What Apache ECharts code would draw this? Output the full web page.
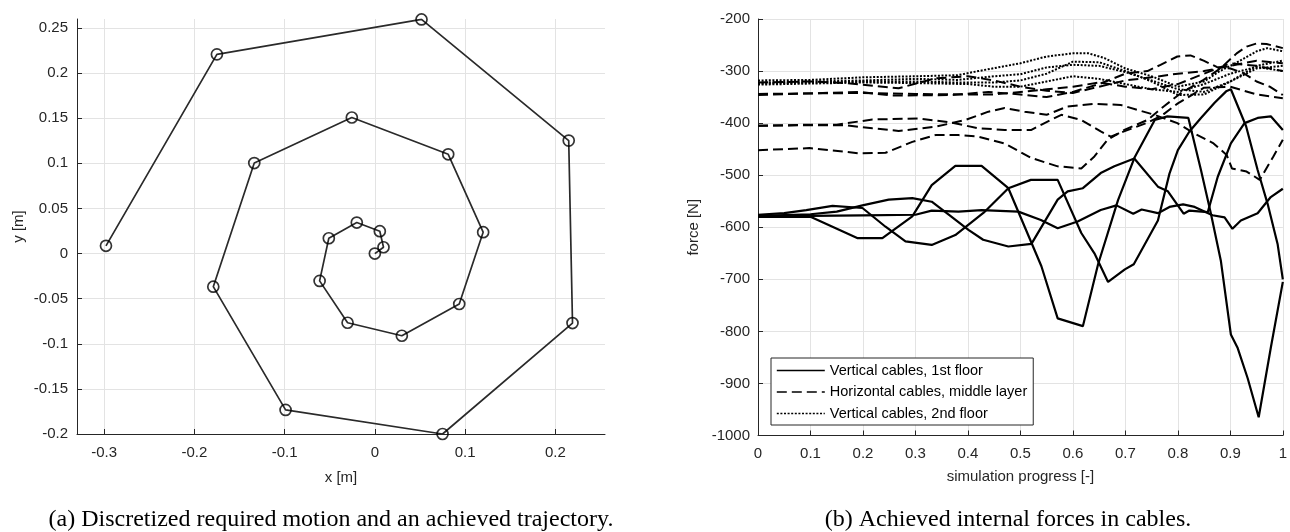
<!DOCTYPE html>
<html><head><meta charset="utf-8">
<script src="https://cdn.jsdelivr.net/npm/echarts@6/dist/echarts.min.js"></script>
<style>html,body{margin:0;padding:0;background:#fff}#c{width:1290px;height:532px}</style>
</head><body><div id="c"></div><script>
// ---------- (a) trajectory plot ----------
const xTicksA = [-0.3, -0.2, -0.1, 0, 0.1, 0.2];
const yTicksA = [-0.2, -0.15, -0.1, -0.05, 0, 0.05, 0.1, 0.15, 0.2, 0.25];
// discretized required motion (spiral waypoints), from centre outwards
const waypoints = [
  [0, 0], [0.0096, 0.007], [0.0055, 0.0248], [-0.02, 0.0344], [-0.051, 0.017],
  [-0.0612, -0.0303], [-0.0302, -0.0767], [0.0299, -0.0911], [0.0935, -0.0559],
  [0.12, 0.0237], [0.0813, 0.110], [-0.0255, 0.1508], [-0.1336, 0.1003],
  [-0.179, -0.0367], [-0.0989, -0.1733], [0.075, -0.2], [0.219, -0.077],
  [0.2148, 0.1252], [0.0517, 0.2595], [-0.175, 0.2208], [-0.2979, 0.0086]
];

// ---------- (b) cable forces ----------
const xTicksB = [0, 0.1, 0.2, 0.3, 0.4, 0.5, 0.6, 0.7, 0.8, 0.9, 1];
const yTicksB = [-1000, -900, -800, -700, -600, -500, -400, -300, -200];
const nameSolid = 'Vertical cables, 1st floor';
const nameDash = 'Horizontal cables, middle layer';
const nameDot = 'Vertical cables, 2nd floor';

// vertical cables, 1st floor (solid)
const v1a = [[0,-580],[0.05,-580],[0.1,-580],[0.19,-621],[0.237,-621],[0.294,-579],[0.331,-519],[0.376,-482],[0.426,-482],[0.477,-525],[0.54,-675],[0.571,-775],[0.619,-790],[0.648,-671],[0.686,-548],[0.718,-465],[0.756,-394],[0.78,-387],[0.82,-390],[0.844,-490],[0.863,-574],[0.882,-665],[0.901,-806],[0.914,-832],[0.933,-890],[0.954,-965],[0.977,-832],[1.0,-705]];
const v1b = [[0,-576],[0.05,-573],[0.092,-567],[0.142,-559],[0.199,-563],[0.243,-599],[0.281,-627],[0.331,-634],[0.376,-615],[0.43,-572],[0.477,-525],[0.52,-509],[0.571,-509],[0.616,-611],[0.641,-650],[0.667,-705],[0.699,-681],[0.716,-671],[0.762,-587],[0.784,-497],[0.8,-452],[0.822,-416],[0.844,-390],[0.87,-361],[0.892,-339],[0.901,-335],[0.93,-406],[0.952,-490],[0.971,-555],[0.99,-632],[1.0,-700]];
const v1c = [[0,-578],[0.1,-575],[0.15,-570],[0.199,-558],[0.249,-547],[0.294,-544],[0.331,-551],[0.369,-580],[0.401,-605],[0.429,-624],[0.477,-637],[0.521,-632],[0.571,-547],[0.59,-531],[0.619,-525],[0.653,-496],[0.679,-483],[0.717,-468],[0.762,-522],[0.781,-531],[0.811,-574],[0.822,-568],[0.857,-571],[0.876,-503],[0.901,-439],[0.927,-400],[0.952,-390],[0.977,-387],[1.0,-413]];
const v1d = [[0,-580],[0.1,-578],[0.2,-577],[0.3,-576],[0.331,-568],[0.382,-570],[0.426,-567],[0.496,-570],[0.539,-586],[0.571,-602],[0.609,-589],[0.653,-567],[0.683,-558],[0.715,-574],[0.731,-566],[0.762,-573],[0.784,-561],[0.81,-556],[0.832,-561],[0.866,-577],[0.889,-581],[0.904,-603],[0.92,-587],[0.952,-573],[0.977,-542],[1.0,-526]];

// horizontal cables, middle layer (dashed)
const hA = [[0,-346],[0.193,-340],[0.256,-347],[0.369,-346],[0.439,-340],[0.5,-345],[0.55,-350],[0.6,-340],[0.65,-325],[0.7,-305],[0.742,-300],[0.767,-288],[0.799,-272],[0.824,-270],[0.849,-280],[0.874,-292],[0.9,-295],[0.925,-304],[0.95,-320],[0.975,-330],[1.0,-346]];
const hB = [[0,-344],[0.2,-342],[0.3,-344],[0.4,-345],[0.45,-345],[0.5,-340],[0.55,-335],[0.6,-330],[0.65,-322],[0.7,-330],[0.75,-335],[0.8,-325],[0.85,-305],[0.9,-285],[0.95,-290],[1.0,-300]];
const hC = [[0,-405],[0.1,-403],[0.15,-403],[0.218,-393],[0.306,-391],[0.369,-399],[0.42,-410],[0.47,-413],[0.521,-413],[0.546,-400],[0.578,-384],[0.616,-394],[0.653,-416],[0.672,-426],[0.7,-415],[0.74,-400],[0.77,-385],[0.8,-362],[0.85,-332],[0.9,-330],[0.95,-345],[1.0,-352]];
const hD = [[0,-405],[0.1,-404],[0.167,-404],[0.218,-410],[0.268,-415],[0.338,-407],[0.395,-394],[0.439,-378],[0.47,-371],[0.508,-378],[0.55,-384],[0.59,-368],[0.641,-363],[0.691,-365],[0.755,-384],[0.799,-400],[0.83,-419],[0.868,-439],[0.893,-461],[0.903,-487],[0.931,-493],[0.956,-509],[0.982,-464],[1.0,-432]];
const hE = [[0,-452],[0.098,-448],[0.193,-458],[0.243,-457],[0.294,-436],[0.338,-423],[0.382,-423],[0.42,-426],[0.47,-439],[0.521,-467],[0.571,-483],[0.616,-487],[0.641,-464],[0.666,-432],[0.698,-413],[0.742,-394],[0.773,-368],[0.805,-343],[0.849,-317],[0.881,-295],[0.912,-266],[0.931,-253],[0.95,-247],[0.969,-248],[1.0,-256]];
const hF = [[0,-322],[0.1,-320],[0.167,-323],[0.268,-333],[0.338,-314],[0.4,-310],[0.45,-318],[0.5,-330],[0.55,-338],[0.6,-342],[0.65,-330],[0.7,-318],[0.75,-312],[0.8,-305],[0.85,-300],[0.9,-290],[0.95,-280],[1.0,-285]];

// vertical cables, 2nd floor (dotted)
const v2a = [[0,-318],[0.1,-317],[0.2,-312],[0.3,-310],[0.38,-308],[0.42,-300],[0.5,-285],[0.55,-272],[0.6,-266],[0.63,-266],[0.66,-275],[0.7,-295],[0.75,-310],[0.8,-330],[0.85,-320],[0.88,-300],[0.91,-285],[0.95,-262],[0.97,-256],[1.0,-262]];
const v2b = [[0,-322],[0.1,-320],[0.2,-318],[0.3,-315],[0.38,-317],[0.45,-310],[0.5,-306],[0.55,-293],[0.6,-288],[0.65,-290],[0.7,-302],[0.75,-318],[0.8,-335],[0.85,-340],[0.9,-320],[0.95,-295],[1.0,-290]];
const v2c = [[0,-324],[0.1,-322],[0.2,-320],[0.3,-320],[0.38,-322],[0.45,-322],[0.5,-318],[0.55,-305],[0.6,-282],[0.65,-283],[0.7,-300],[0.75,-320],[0.8,-346],[0.85,-345],[0.9,-320],[0.95,-290],[1.0,-280]];
const v2d = [[0,-326],[0.1,-324],[0.2,-322],[0.3,-323],[0.4,-325],[0.45,-330],[0.5,-330],[0.55,-320],[0.6,-310],[0.65,-315],[0.7,-325],[0.75,-335],[0.8,-340],[0.85,-325],[0.9,-305],[0.95,-292],[1.0,-300]];

const solidSets = [v1a, v1b, v1c, v1d];
const dashSets = [hA, hB, hC, hD, hE, hF];
const dotSets = [v2a, v2b, v2c, v2d];

const captionA = '(a) Discretized required motion and an achieved trajectory.';
const captionB = '(b) Achieved internal forces in cables.';

// ---------- chart ----------
const AX = '#262626', GRIDC = '#e3e3e3', FONT = '"Liberation Sans", Arial, sans-serif';
const lbl = {fontSize: 15, color: AX, fontFamily: FONT, formatter: v => String(v)};
function axisCommon(extra) {
  return Object.assign({
    type: 'value',
    axisLine: {show: true, onZero: false, lineStyle: {color: AX, width: 1}},
    axisTick: {show: true, inside: true, length: 5, lineStyle: {color: AX}},
    splitLine: {show: true, lineStyle: {color: GRIDC, width: 1}},
    nameLocation: 'middle',
    nameTextStyle: {fontSize: 15, color: AX, fontFamily: FONT}
  }, extra);
}
const series = [];
series.push({type: 'line', xAxisIndex: 0, yAxisIndex: 0, data: waypoints, symbol: 'none',
  lineStyle: {color: '#2a2a2a', width: 1.7}, z: 2, silent: true});
series.push({type: 'scatter', xAxisIndex: 0, yAxisIndex: 0, data: waypoints, symbol: 'circle', symbolSize: 11,
  itemStyle: {color: 'rgba(0,0,0,0)', borderColor: '#000', borderWidth: 1.7}, z: 3, silent: true});
solidSets.forEach(d => series.push({type: 'line', name: nameSolid, xAxisIndex: 1, yAxisIndex: 1, data: d, symbol: 'none',
  itemStyle: {color: '#000'}, lineStyle: {color: '#000', width: 2.2, type: 'solid'}, silent: true, z: 4}));
dashSets.forEach(d => series.push({type: 'line', name: nameDash, xAxisIndex: 1, yAxisIndex: 1, data: d, symbol: 'none',
  itemStyle: {color: '#000'}, lineStyle: {color: '#000', width: 2, type: [10, 5]}, silent: true, z: 3}));
dotSets.forEach(d => series.push({type: 'line', name: nameDot, xAxisIndex: 1, yAxisIndex: 1, data: d, symbol: 'none',
  itemStyle: {color: '#000'}, lineStyle: {color: '#000', width: 2, type: [2, 1.6]}, silent: true, z: 3}));

const chart = echarts.init(document.getElementById('c'), null, {renderer: 'canvas'});
chart.setOption({
  animation: false,
  backgroundColor: '#fff',
  grid: [
    {left: 77, top: 19, width: 528, height: 415},
    {left: 758, top: 19, width: 528, height: 416.5}
  ],
  xAxis: [
    axisCommon({gridIndex: 0, min: -0.33, max: 0.255, name: 'x [m]', nameGap: 36,
      axisTick: {show: true, inside: true, length: 5, lineStyle: {color: AX}, customValues: xTicksA},
      axisLabel: Object.assign({margin: 11, customValues: xTicksA}, lbl)}),
    axisCommon({gridIndex: 1, min: xTicksB[0], max: xTicksB[xTicksB.length - 1], interval: 0.1,
      name: 'simulation progress [-]', nameGap: 34,
      axisLabel: Object.assign({margin: 11}, lbl)})
  ],
  yAxis: [
    axisCommon({gridIndex: 0, min: -0.2, max: 0.26, name: 'y [m]', nameGap: 51,
      axisTick: {show: true, inside: true, length: 5, lineStyle: {color: AX}, customValues: yTicksA},
      axisLabel: Object.assign({margin: 9, customValues: yTicksA}, lbl)}),
    axisCommon({gridIndex: 1, min: yTicksB[0], max: yTicksB[yTicksB.length - 1], interval: 100,
      name: 'force [N]', nameGap: 57,
      axisLabel: Object.assign({margin: 8}, lbl)})
  ],
  legend: {
    data: [nameSolid, nameDash, nameDot],
    orient: 'vertical', left: 771, top: 358,
    itemWidth: 48, itemHeight: 14, itemGap: 6.5,
    padding: [5, 6, 4, 5],
    borderColor: AX, borderWidth: 1, borderRadius: 0, backgroundColor: '#fff',
    itemStyle: {color: 'rgba(0,0,0,0)', borderColor: 'rgba(0,0,0,0)', borderWidth: 0, opacity: 0},
    lineStyle: {color: '#000', width: 1.6},
    textStyle: {fontSize: 14.5, color: '#000', fontFamily: FONT},
    selectedMode: false
  },
  graphic: [
    {type: 'text', x: 331, y: 520, style: {text: captionA, font: '24px "Liberation Serif", "Times New Roman", serif', fill: '#000', align: 'center', verticalAlign: 'middle'}},
    {type: 'text', x: 1008, y: 520, style: {text: captionB, font: '24px "Liberation Serif", "Times New Roman", serif', fill: '#000', align: 'center', verticalAlign: 'middle'}}
  ],
  series: series
});
</script></body></html>
